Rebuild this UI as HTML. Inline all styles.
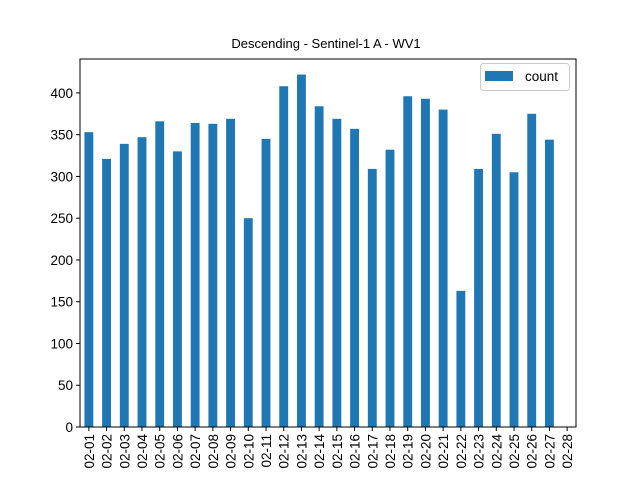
<!DOCTYPE html>
<html><head><meta charset="utf-8"><style>
body{margin:0;background:#fff;}
svg{display:block;font-family:"Liberation Sans","DejaVu Sans",sans-serif;}
</style></head><body>
<svg id="chart" width="640" height="480">
<text x="326" y="48" text-anchor="middle" font-size="13">Descending - Sentinel-1 A - WV1</text>
<g id="bars"></g>
<g id="yaxis"></g>
<g id="xaxis"></g>
<rect x="80" y="59" width="496" height="368" fill="none" stroke="#000" stroke-width="1"/>
<g>
<rect x="480.5" y="63.5" width="89" height="27" rx="3" fill="#fff" stroke="#ccc"/>
<rect x="485" y="71" width="28" height="10" fill="#1f77b4"/>
<text x="525" y="81" font-size="13.5">count</text>
</g>
</svg>
<script>
const categories=["02-01","02-02","02-03","02-04","02-05","02-06","02-07","02-08","02-09","02-10","02-11","02-12","02-13","02-14","02-15","02-16","02-17","02-18","02-19","02-20","02-21","02-22","02-23","02-24","02-25","02-26","02-27","02-28"];
const counts=[353,321,339,347,366,330,364,363,369,250,345,408,422,384,369,357,309,332,396,393,380,163,309,351,305,375,344,0];
const yTicks=[0,50,100,150,200,250,300,350,400];
const L=80,R=576,T=59,B=427,yMax=440.6;
const ns="http://www.w3.org/2000/svg";
const step=(R-L)/categories.length;
function xs(i){return L+step*(i+0.5);}
function ys(v){return B-(v/yMax)*(B-T);}
const bars=document.getElementById('bars'),xa=document.getElementById('xaxis'),ya=document.getElementById('yaxis');
function mk(t,a){const e=document.createElementNS(ns,t);for(const k in a)e.setAttribute(k,a[k]);return e;}
counts.forEach((v,i)=>{
 const w=step*0.5;
 const r=mk('rect',{x:xs(i)-w/2,y:ys(v),width:w,height:B-ys(v),fill:'#1f77b4'});
 
 
 bars.appendChild(r);
});
categories.forEach((c,i)=>{
 const x=xs(i);
 const t=mk('line',{x1:x,x2:x,y1:B,y2:B+4,stroke:'#000'});
 
 
 xa.appendChild(t);
 const l=mk('text',{x:0,y:0,'font-size':13.5,'text-anchor':'end',transform:`translate(${x+5},${B+7}) rotate(-90)`});
 l.textContent=c;
 
 
 xa.appendChild(l);
});
yTicks.forEach(v=>{
 const y=ys(v);
 const t=mk('line',{x1:L-4,x2:L,y1:y,y2:y,stroke:'#000'});
 
 
 ya.appendChild(t);
 const l=mk('text',{x:L-7,y:y+5,'font-size':13.5,'text-anchor':'end'});
 l.textContent=v;
 
 
 ya.appendChild(l);
});
</script>
</body></html>
